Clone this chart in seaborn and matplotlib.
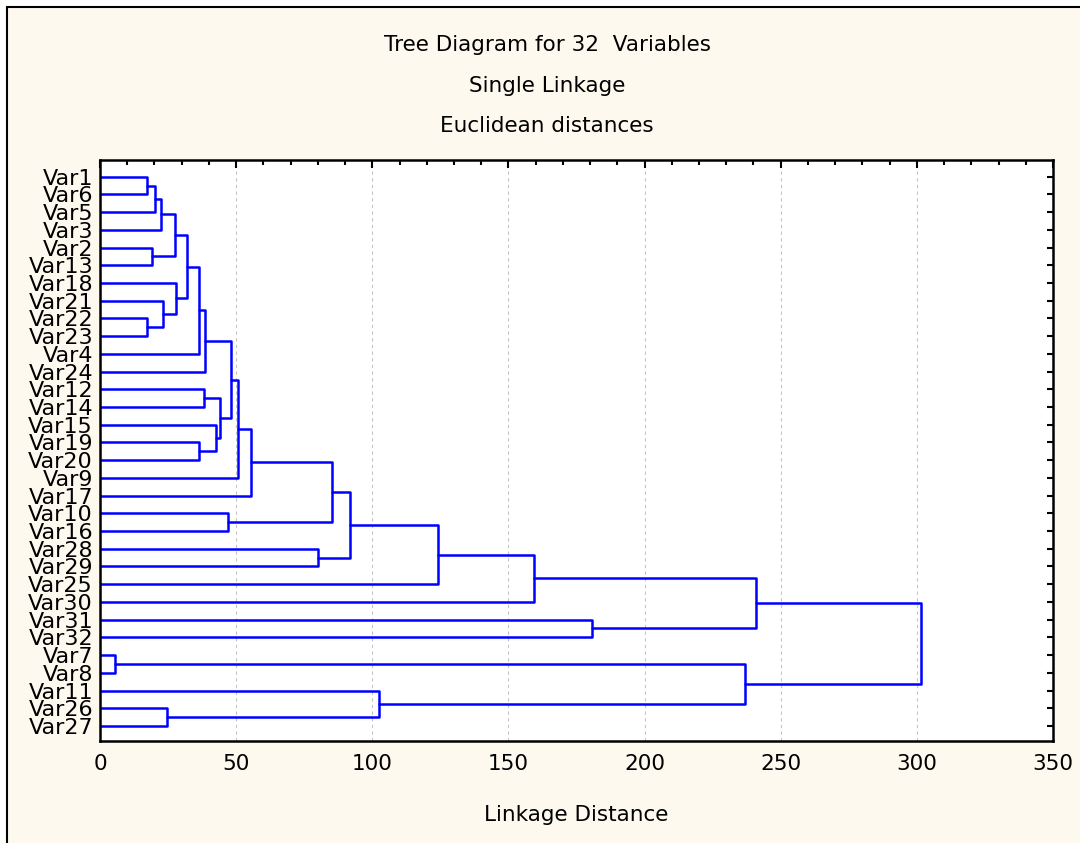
import numpy as np
import pandas as pd
import matplotlib.pyplot as plt
from matplotlib.patches import Rectangle
from matplotlib.ticker import MultipleLocator
import seaborn as sns

# ================= DATA =================
leaves = ["Var1", "Var6", "Var5", "Var3", "Var2", "Var13", "Var18", "Var21",
          "Var22", "Var23", "Var4", "Var24", "Var12", "Var14", "Var15", "Var19",
          "Var20", "Var9", "Var17", "Var10", "Var16", "Var28", "Var29", "Var25",
          "Var30", "Var31", "Var32", "Var7", "Var8", "Var11", "Var26", "Var27"]

# merge k joins merge_left[k] with merge_right[k] at merge_height[k]
# ("C<n>" refers to the cluster made by merge n)
merge_left = ["Var1", "C0", "C1", "Var2", "C2", "Var22", "Var21", "Var18",
              "C4", "C8", "C9", "Var12", "Var19", "Var15", "C11", "C10",
              "C15", "C16", "Var10", "C17", "Var28", "C19", "C21", "C22",
              "Var31", "C23", "Var7", "Var26", "Var11", "C26", "C25"]
merge_right = ["Var6", "Var5", "Var3", "Var13", "C3", "Var23", "C5", "C6",
               "C7", "Var4", "Var24", "Var14", "Var20", "C12", "C13", "C14",
               "Var9", "Var17", "Var16", "C18", "Var29", "C20", "Var25", "Var30",
               "Var32", "C24", "Var8", "Var27", "C27", "C28", "C29"]
merge_height = [17.1, 20.2, 22.3, 19.2, 27.5, 17.3, 23.3, 27.8,
                31.8, 36.5, 38.6, 38.3, 36.4, 42.5, 44.1, 48.1,
                50.8, 55.5, 46.9, 85.2, 80.2, 91.8, 124.3, 159.4,
                180.7, 240.9, 5.5, 24.5, 102.5, 236.9, 301.5]

x_ticks = [0, 50, 100, 150, 200, 250, 300, 350]
title_lines = ["Tree Diagram for 32  Variables", "Single Linkage", "Euclidean distances"]
x_label = "Linkage Distance"

# ================= BUILD DENDROGRAM SEGMENTS =================
pos = {name: (i, 0.0) for i, name in enumerate(leaves)}
rows = []
for k, (a, b, h) in enumerate(zip(merge_left, merge_right, merge_height)):
    ya, xa = pos[a]
    yb, xb = pos[b]
    for x, y in [(xa, ya), (h, ya), (h, yb), (xb, yb)]:
        rows.append({"unit": k, "x": x, "y": y})
    pos[f"C{k}"] = ((ya + yb) / 2, h)
seg = pd.DataFrame(rows)

# ================= STYLE =================
sns.set_theme(style="white")
plt.rcParams["font.family"] = ["DejaVu Sans"]
CREAM = "#FDF9EF"

fig = plt.figure(figsize=(10.8, 8.43), dpi=100, facecolor="white")
fig.patches.append(Rectangle((7 / 1080, -0.2), 1.2, 1.2 - 7 / 843,
                             transform=fig.transFigure, facecolor=CREAM,
                             edgecolor="black", lw=1.5, zorder=-5))

ax = fig.add_axes([100 / 1080, 1 - 741 / 843, 953 / 1080, 581 / 843])
ax.set_facecolor("white")

sns.lineplot(data=seg, x="x", y="y", units="unit", estimator=None, sort=False,
             color="#0000FF", lw=1.8, ax=ax, legend=False)

ax.set_xlim(0, 350)
ax.set_ylim(31.85, -0.94)
ax.set_xticks(x_ticks)
ax.xaxis.set_minor_locator(MultipleLocator(10))
ax.set_yticks(range(len(leaves)))
ax.set_yticklabels(leaves)
ax.tick_params(axis="both", which="both", direction="in", top=True, right=True,
               color="black", width=1.5, labelcolor="black")
ax.tick_params(axis="x", which="major", length=6, pad=9, labelsize=15.5)
ax.tick_params(axis="x", which="minor", length=3.5)
ax.tick_params(axis="y", which="major", length=4, pad=5, labelsize=16)
for sp in ax.spines.values():
    sp.set_color("black")
    sp.set_linewidth(1.8)

ax.grid(axis="x", which="major", color="#C4C4C4", ls=(0, (3, 3)), lw=0.8)
ax.set_axisbelow(True)

ax.set_ylabel("")
ax.set_xlabel(x_label, fontsize=15.5, color="black")
ax.xaxis.set_label_coords(0.5, -(815 - 741) / 581)
ax.xaxis.label.set_va("center")

for i, t in enumerate(title_lines):
    fig.text(547 / 1080, 1 - (45 + 40.5 * i) / 843, t, ha="center", va="center",
             fontsize=15.5, color="black")

plt.savefig("out.png", dpi=100, facecolor=fig.get_facecolor())
plt.close()
